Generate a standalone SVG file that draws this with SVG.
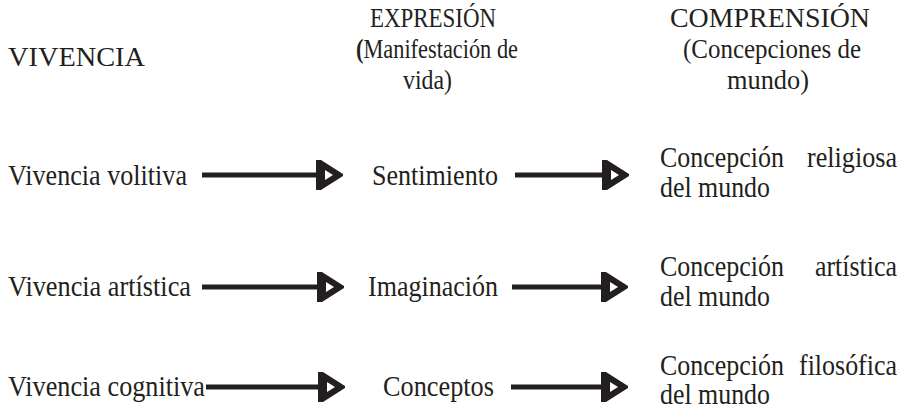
<svg xmlns="http://www.w3.org/2000/svg" xmlns:xlink="http://www.w3.org/1999/xlink" width="907" height="409" viewBox="0 0 907 409">
<style>
text{fill:#231f20;font-family:"Liberation Serif","Times New Roman",serif}
.h{font-size:27px}
.t{font-size:29px}
.ln{stroke:#231f20;stroke-width:5;fill:none}
</style>
<defs>
<path id="head" d="M0,-15 L5,-15 L27,-1 L27,1 L5,15 L0,15 Z M9,-5 L9,5 L17,0 Z" fill="#231f20" fill-rule="evenodd"/>
</defs>
<rect width="907" height="409" fill="#fff"/>
<g id="headers">
<text class="h" x="8" y="66" textLength="137" lengthAdjust="spacingAndGlyphs">VIVENCIA</text>
<text class="h" x="370" y="27" textLength="126" lengthAdjust="spacingAndGlyphs">EXPRESIÓN</text>
<text class="h" x="356" y="58" textLength="162" lengthAdjust="spacingAndGlyphs"><tspan font-weight="bold">(</tspan>Manifestación de</text>
<text class="h" x="403" y="89" textLength="49" lengthAdjust="spacingAndGlyphs">vida)</text>
<text class="h" x="670" y="27" textLength="200" lengthAdjust="spacingAndGlyphs">COMPRENSIÓN</text>
<text class="h" x="683" y="58" textLength="178" lengthAdjust="spacingAndGlyphs">(Concepciones de</text>
<text class="h" x="727" y="89" textLength="82" lengthAdjust="spacingAndGlyphs">mundo)</text>
</g>
<g id="node-vivencia-volitiva"><text class="t" x="8" y="185" textLength="179" lengthAdjust="spacingAndGlyphs">Vivencia volitiva</text></g>
<g id="node-sentimiento"><text class="t" x="372" y="185" textLength="126" lengthAdjust="spacingAndGlyphs">Sentimiento</text></g>
<g id="node-religiosa">
<text class="t" x="660" y="167" textLength="124" lengthAdjust="spacingAndGlyphs">Concepción</text>
<text class="t" x="807" y="167" textLength="90" lengthAdjust="spacingAndGlyphs">religiosa</text>
<text class="t" x="660" y="197" textLength="110" lengthAdjust="spacingAndGlyphs">del mundo</text>
</g>
<g id="node-vivencia-artistica"><text class="t" x="8" y="296" textLength="183" lengthAdjust="spacingAndGlyphs">Vivencia artística</text></g>
<g id="node-imaginacion"><text class="t" x="368" y="296" textLength="130" lengthAdjust="spacingAndGlyphs">Imaginación</text></g>
<g id="node-artistica">
<text class="t" x="660" y="276" textLength="124" lengthAdjust="spacingAndGlyphs">Concepción</text>
<text class="t" x="815" y="276" textLength="82" lengthAdjust="spacingAndGlyphs">artística</text>
<text class="t" x="660" y="306" textLength="110" lengthAdjust="spacingAndGlyphs">del mundo</text>
</g>
<g id="node-vivencia-cognitiva"><text class="t" x="8" y="396" textLength="197" lengthAdjust="spacingAndGlyphs">Vivencia cognitiva</text></g>
<g id="node-conceptos"><text class="t" x="383" y="396" textLength="111" lengthAdjust="spacingAndGlyphs">Conceptos</text></g>
<g id="node-filosofica">
<text class="t" x="660" y="375" textLength="124" lengthAdjust="spacingAndGlyphs">Concepción</text>
<text class="t" x="799" y="375" textLength="98" lengthAdjust="spacingAndGlyphs">filosófica</text>
<text class="t" x="660" y="404" textLength="110" lengthAdjust="spacingAndGlyphs">del mundo</text>
</g>
<g id="connectors">
<line class="ln" x1="202" y1="175" x2="318" y2="175"/>
<use xlink:href="#head" x="316" y="175"/>
<line class="ln" x1="515" y1="175" x2="604" y2="175"/>
<use xlink:href="#head" x="602" y="175"/>
<line class="ln" x1="202" y1="287" x2="319" y2="287"/>
<use xlink:href="#head" x="317" y="287"/>
<line class="ln" x1="512" y1="287" x2="603" y2="287"/>
<use xlink:href="#head" x="601" y="287"/>
<line class="ln" x1="206" y1="387" x2="320" y2="387"/>
<use xlink:href="#head" x="318" y="387"/>
<line class="ln" x1="511" y1="387" x2="603" y2="387"/>
<use xlink:href="#head" x="601" y="387"/>
</g>
</svg>
